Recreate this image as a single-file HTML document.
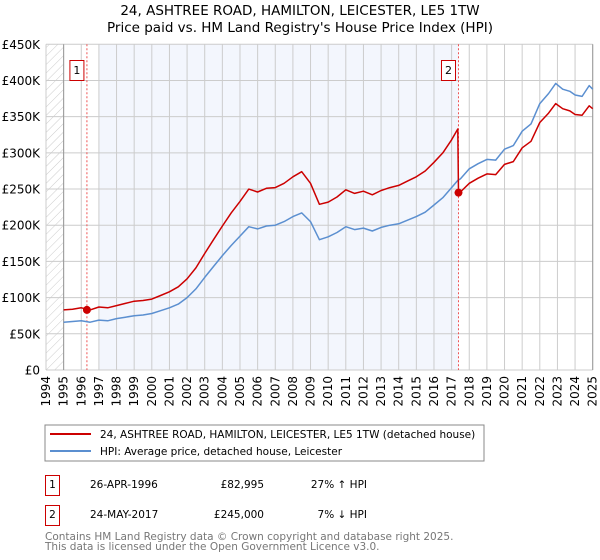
<!DOCTYPE html>
<html><head><meta charset="utf-8"><style>
body{margin:0;background:#fff;}
svg{font-family:"DejaVu Sans","Liberation Sans",sans-serif;display:block}
</style></head><body>
<svg id="chart" width="600" height="560" viewBox="0 0 600 560">
<defs><pattern id="hatch" width="6" height="6" patternUnits="userSpaceOnUse" patternTransform="rotate(45)"><line x1="0" y1="0" x2="0" y2="6" stroke="#ccc" stroke-width="1"/></pattern></defs>
<text x="300" y="15" text-anchor="middle" font-size="13.5" fill="#000">24, ASHTREE ROAD, HAMILTON, LEICESTER, LE5 1TW</text>
<text x="300" y="32" text-anchor="middle" font-size="13.5" fill="#000">Price paid vs. HM Land Registry's House Price Index (HPI)</text>
<g id="plot"></g>
<g>
<rect x="45" y="425" width="439" height="36" fill="#fff" stroke="#888" stroke-width="1"/>
<line x1="50" y1="434" x2="91" y2="434" stroke="#cc0000" stroke-width="2"/>
<text x="100" y="438" font-size="10.5">24, ASHTREE ROAD, HAMILTON, LEICESTER, LE5 1TW (detached house)</text>
<line x1="50" y1="451" x2="91" y2="451" stroke="#5b8fd0" stroke-width="2"/>
<text x="100" y="455" font-size="10.5">HPI: Average price, detached house, Leicester</text>
</g>
<g font-size="10.5">
<rect x="45.5" y="475.5" width="14" height="20" fill="#fff" stroke="#cc0000"/>
<text x="52.5" y="488" text-anchor="middle">1</text>
<text x="90" y="488">26-APR-1996</text>
<text x="264" y="488" text-anchor="end">£82,995</text>
<text x="367" y="488" text-anchor="end">27% ↑ HPI</text>
<rect x="45.5" y="505.5" width="14" height="20" fill="#fff" stroke="#cc0000"/>
<text x="52.5" y="518" text-anchor="middle">2</text>
<text x="90" y="518">24-MAY-2017</text>
<text x="264" y="518" text-anchor="end">£245,000</text>
<text x="367" y="518" text-anchor="end">7% ↓ HPI</text>
</g>
<text x="45" y="540" font-size="10.5" fill="#777">Contains HM Land Registry data © Crown copyright and database right 2025.</text>
<text x="45" y="550" font-size="10.5" fill="#777">This data is licensed under the Open Government Licence v3.0.</text>
</svg>
<script>
const hpiDates=[1995,1995.5,1996,1996.5,1997,1997.5,1998,1998.5,1999,1999.5,2000,2000.5,2001,2001.5,2002,2002.5,2003,2003.5,2004,2004.5,2005,2005.5,2006,2006.5,2007,2007.5,2008,2008.5,2009,2009.5,2010,2010.5,2011,2011.5,2012,2012.5,2013,2013.5,2014,2014.5,2015,2015.5,2016,2016.5,2017,2017.35,2017.5,2018,2018.5,2019,2019.5,2020,2020.5,2021,2021.5,2022,2022.5,2022.9,2023.3,2023.7,2024,2024.4,2024.8,2025];
const hpiValues=[66,67,68,66,69,68,71,73,75,76,78,82,86,91,100,112,128,143,158,172,185,198,195,199,200,205,212,217,205,180,184,190,198,194,196,192,197,200,202,207,212,218,228,238,252,262,264,278,285,291,290,305,310,330,340,368,382,396,388,385,380,378,393,388];
const priceDates=[1995,1995.5,1996,1996.5,1997,1997.5,1998,1998.5,1999,1999.5,2000,2000.5,2001,2001.5,2002,2002.5,2003,2003.5,2004,2004.5,2005,2005.5,2006,2006.5,2007,2007.5,2008,2008.5,2009,2009.5,2010,2010.5,2011,2011.5,2012,2012.5,2013,2013.5,2014,2014.5,2015,2015.5,2016,2016.5,2017,2017.35,2017.39,2017.5,2018,2018.5,2019,2019.5,2020,2020.5,2021,2021.5,2022,2022.5,2022.9,2023.3,2023.7,2024,2024.4,2024.8,2025];
const priceValues=[83,84,86,83,87,86,89,92,95,96,98,103,108,115,126,141,161,180,199,217,233,250,246,251,252,258,267,274,258,229,232,239,249,244,247,242,248,252,255,261,267,275,287,300,318,333,245,246,258,265,271,270,284,288,307,316,342,355,368,361,358,353,352,365,361];
const saleDates=[1996.32,2017.39];
const saleValues=[82.995,245];
const saleLabels=["1","2"];
const yTicks=[0,50,100,150,200,250,300,350,400,450];
const yTickLabels=["£0","£50K","£100K","£150K","£200K","£250K","£300K","£350K","£400K","£450K"];
const xYears=[1994,1995,1996,1997,1998,1999,2000,2001,2002,2003,2004,2005,2006,2007,2008,2009,2010,2011,2012,2013,2014,2015,2016,2017,2018,2019,2020,2021,2022,2023,2024,2025];

const X0=46,X1=592.7,Y0=370,Y1=44.3;
const xs=t=>X0+(t-1994)/(2025-1994)*(X1-X0);
const ys=v=>Y0-v/450*(Y0-Y1);
const NS="http://www.w3.org/2000/svg";
const g=document.getElementById('plot');
function mk(tag,attrs,parent){const e=document.createElementNS(NS,tag);for(const k in attrs)e.setAttribute(k,attrs[k]);(parent||g).appendChild(e);return e;}

let e;
e=mk('rect',{x:X0,y:Y1,width:X1-X0,height:Y0-Y1,fill:'#fff'});


e=mk('rect',{x:xs(1994),y:Y1,width:xs(1995)-xs(1994),height:Y0-Y1,fill:'url(#hatch)'});


e=mk('rect',{x:xs(1997),y:Y1,width:xs(saleDates[1])-xs(1997),height:Y0-Y1,fill:'#f3f6fd'});



xYears.forEach(yr=>{
  const l=mk('line',{x1:xs(yr),x2:xs(yr),y1:Y1,y2:Y0,stroke:'#ccc','stroke-width':1});
  
  
  const t=mk('text',{x:0,y:0,'font-size':12,'text-anchor':'end',transform:`translate(${xs(yr)+4},${Y0+6}) rotate(-90)`});
  t.textContent=yr;
  
  
});
yTicks.forEach((v,i)=>{
  const l=mk('line',{x1:X0,x2:X1,y1:ys(v),y2:ys(v),stroke:'#ccc','stroke-width':1});
  
  
  const t=mk('text',{x:X0-6,y:ys(v)+4.5,'font-size':12,'text-anchor':'end'});
  t.textContent=yTickLabels[i];
  
  
});
e=mk('line',{x1:xs(1995),x2:xs(1995),y1:Y1,y2:Y0,stroke:'#999','stroke-width':1});


e=mk('line',{x1:X1,x2:X1,y1:Y1,y2:Y0,stroke:'#999','stroke-width':1});



saleDates.forEach((d,i)=>{
  const l=mk('line',{x1:xs(d),x2:xs(d),y1:Y1,y2:Y0,stroke:'#ee5555','stroke-width':1,'stroke-dasharray':'2,2'});
  
  
});

const pts=(ds,vs)=>ds.map((d,i)=>xs(d).toFixed(1)+','+ys(vs[i]).toFixed(1)).join(' ');
e=mk('polyline',{points:pts(hpiDates,hpiValues),fill:'none',stroke:'#5b8fd0','stroke-width':1.5,'stroke-linejoin':'round'});


e=mk('polyline',{points:pts(priceDates,priceValues),fill:'none',stroke:'#cc0000','stroke-width':1.5,'stroke-linejoin':'round'});



saleDates.forEach((d,i)=>{
  const c=mk('circle',{cx:xs(d),cy:ys(saleValues[i]),r:4,fill:'#cc0000'});
  
  
  const bx=xs(d)-17;
  const r=mk('rect',{x:bx,y:60.5,width:14,height:20,fill:'#fff',stroke:'#cc0000'});
  
  
  const t=mk('text',{x:bx+7,y:74,'font-size':11,'text-anchor':'middle'});
  t.textContent=saleLabels[i];
  
  
});
</script>
</body></html>
